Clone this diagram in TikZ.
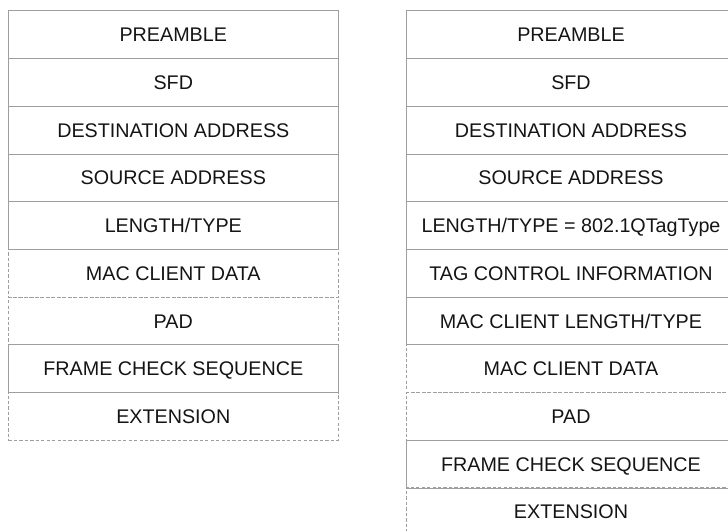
\documentclass[tikz,border=0pt]{standalone}
\usepackage{fontspec}
\setmainfont{Liberation Sans}
\definecolor{boxline}{RGB}{158,158,158}
\definecolor{fieldtext}{RGB}{20,20,20}

\begin{document}
\begin{tikzpicture}[x=0.75pt,y=0.75pt,yscale=-1,xscale=1,
  field/.style={draw=boxline,line width=0.75pt,minimum width=247.5pt,minimum height=35.8pt,
    inner sep=0pt,outer sep=0pt,text height=10.5pt,text depth=0pt,text=fieldtext,
    font=\fontsize{14.8}{17}\selectfont},
  optfield/.style={field,dash pattern=on 2.5pt off 1.6pt}]
\path[use as bounding box] (0,0) rectangle (728,531);

% Basic frame (left)
\node [field] (lpre) at (173.3,34.85) {PREAMBLE};
\node [field] (lsfd) at (173.3,82.55) {SFD};
\node [field] (ldst) at (173.3,130.25) {DESTINATION ADDRESS};
\node [field] (lsrc) at (173.3,177.95) {SOURCE ADDRESS};
\node [field] (llen) at (173.3,225.65) {LENGTH/TYPE};
\node [optfield] (ldata) at (173.3,273.35) {MAC CLIENT DATA};
\node [optfield] (lpad) at (173.3,321.05) {PAD};
\node [field] (lfcs) at (173.3,368.75) {FRAME CHECK SEQUENCE};
\node [optfield] (lext) at (173.3,416.45) {EXTENSION};

% Tagged frame (right)
\node [field] (rpre) at (571,34.85) {PREAMBLE};
\node [field] (rsfd) at (571,82.55) {SFD};
\node [field] (rdst) at (571,130.25) {DESTINATION ADDRESS};
\node [field] (rsrc) at (571,177.95) {SOURCE ADDRESS};
\node [field] (rlen) at (571,225.65) {LENGTH/TYPE = 802.1QTagType};
\node [field] (rtag) at (571,273.35) {TAG CONTROL INFORMATION};
\node [field] (rclen) at (571,321.05) {MAC CLIENT LENGTH/TYPE};
\node [optfield] (rdata) at (571,368.75) {MAC CLIENT DATA};
\node [optfield] (rpad) at (571,416.45) {PAD};
\node [field] (rfcs) at (571,464.15) {FRAME CHECK SEQUENCE};
\node [optfield] (rext) at (571,511.85) {EXTENSION};
\end{tikzpicture}
\end{document}
